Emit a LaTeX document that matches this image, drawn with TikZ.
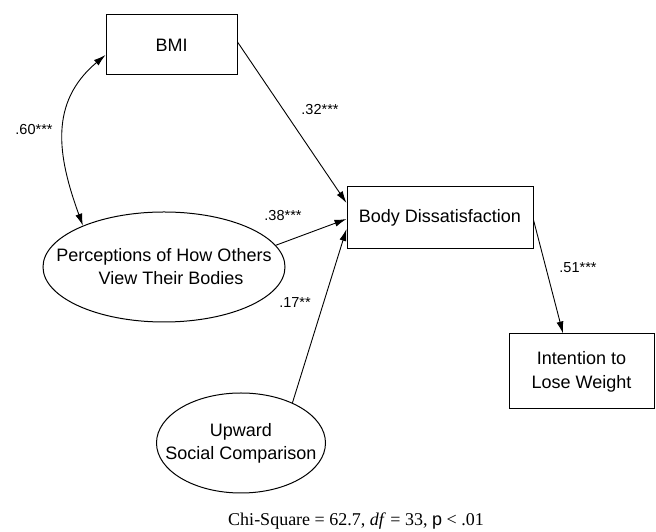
\documentclass[tikz,border=0pt]{standalone}
\usepackage{fontspec}
\setmainfont{Liberation Serif}
\newfontfamily\arialfont{Liberation Sans}
\usetikzlibrary{arrows, arrows.meta}
\usetikzlibrary{positioning, shapes.geometric}

\begin{document}
\begin{tikzpicture}[x=1pt,y=1pt]
\tikzset{
  box/.style={draw, line width=1pt, rectangle, inner sep=0pt, align=center,
    font=\arialfont\fontsize{18}{24}\selectfont},
  latent/.style={draw, line width=1pt, ellipse, inner sep=0pt},
  latenttext/.style={inner sep=0pt, align=center, font=\arialfont\fontsize{18}{23}\selectfont},
  coef/.style={inner sep=0pt, font=\arialfont\fontsize{14.5}{17}\selectfont},
  path/.style={line width=0.9pt, ->, >={Latex[length=12pt,width=7pt]}}
}
\useasboundingbox (0,0) rectangle (656,532);

\node[box, minimum width=131, minimum height=60] (bmi) at (171.5,487) {BMI};
\node[box, minimum width=186, minimum height=62] (body) at (440,314) {Body Dissatisfaction};
\node[box, minimum width=145, minimum height=75] (lose) at (581.5,160.5) {Intention to\\Lose Weight};

\node[latent, minimum width=242, minimum height=110,
  label={[latenttext]center:Perceptions of How Others\\\hspace*{14pt}View Their Bodies}] (perc) at (164,265) {};
\node[latent, minimum width=169, minimum height=100,
  label={[latenttext]center:Upward\\Social Comparison}] (upward) at (241,89) {};

\draw[path, <->] ([yshift=-10pt]bmi.west) to[out=220, in=110, looseness=1.1] (perc.153);
\draw[path] ([yshift=3pt]bmi.east) -- ([yshift=15pt]body.west);
\draw[path] (perc.11) -- ([yshift=-1pt]body.west);
\draw[path] (upward.38) -- ([yshift=-11pt]body.west);
\draw[path] ([yshift=-2pt]body.east) -- ([xshift=-18.5pt]lose.north);

\node[coef] (r60) at (34,402) {.60***};
\node[coef] (b32) at (320,422) {.32***};
\node[coef] (b38) at (283,316) {.38***};
\node[coef] (b17) at (295,229) {.17**};
\node[coef] (b51) at (578,264) {.51***};

\node[font=\fontsize{18}{21}\selectfont] (fit) at (356,11) {Chi-Square = 62.7, \textit{df} = 33, {\arialfont p} < .01};
\end{tikzpicture}
\end{document}
